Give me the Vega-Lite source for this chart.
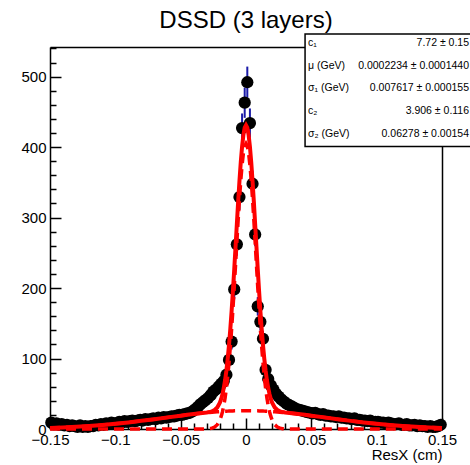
{
  "$schema": "https://vega.github.io/schema/vega-lite/v6.json",
  "width": 392,
  "height": 382,
  "autosize": {"type": "none"},
  "padding": {"left": 50, "top": 47, "right": 28, "bottom": 36},
  "background": "white",
  "config": {"view": {"stroke": null}, "font": "Liberation Sans"},
  "title": {"text": "DSSD (3 layers)", "fontSize": 24, "font": "Liberation Sans", "fontWeight": "normal", "color": "black", "anchor": "middle", "offset": 0},
  "datasets": {
    "hist": [
      {"x": -0.149, "n": 9, "e": 3}, {"x": -0.147, "n": 7, "e": 2.6}, {"x": -0.145, "n": 8, "e": 2.8}, {"x": -0.143, "n": 6, "e": 2.4}, {"x": -0.141, "n": 7, "e": 2.6},
      {"x": -0.139, "n": 5, "e": 2.2}, {"x": -0.137, "n": 6, "e": 2.4}, {"x": -0.135, "n": 4, "e": 2}, {"x": -0.133, "n": 5, "e": 2.2}, {"x": -0.131, "n": 4, "e": 2},
      {"x": -0.129, "n": 3, "e": 1.7}, {"x": -0.127, "n": 5, "e": 2.2}, {"x": -0.125, "n": 3, "e": 1.7}, {"x": -0.123, "n": 4, "e": 2}, {"x": -0.121, "n": 3, "e": 1.7},
      {"x": -0.119, "n": 4, "e": 2}, {"x": -0.117, "n": 4, "e": 2}, {"x": -0.115, "n": 6, "e": 2.4}, {"x": -0.113, "n": 5, "e": 2.2}, {"x": -0.111, "n": 7, "e": 2.6},
      {"x": -0.109, "n": 6, "e": 2.4}, {"x": -0.107, "n": 8, "e": 2.8}, {"x": -0.105, "n": 7, "e": 2.6}, {"x": -0.103, "n": 9, "e": 3}, {"x": -0.101, "n": 8, "e": 2.8},
      {"x": -0.099, "n": 8, "e": 2.8}, {"x": -0.097, "n": 10, "e": 3.2}, {"x": -0.095, "n": 9, "e": 3}, {"x": -0.093, "n": 11, "e": 3.3}, {"x": -0.091, "n": 10, "e": 3.2},
      {"x": -0.089, "n": 11, "e": 3.3}, {"x": -0.087, "n": 12, "e": 3.5}, {"x": -0.085, "n": 11, "e": 3.3}, {"x": -0.083, "n": 12, "e": 3.5}, {"x": -0.081, "n": 13, "e": 3.6},
      {"x": -0.079, "n": 12, "e": 3.5}, {"x": -0.077, "n": 14, "e": 3.7}, {"x": -0.075, "n": 13, "e": 3.6}, {"x": -0.073, "n": 14, "e": 3.7}, {"x": -0.071, "n": 15, "e": 3.9},
      {"x": -0.069, "n": 14, "e": 3.7}, {"x": -0.067, "n": 16, "e": 4}, {"x": -0.065, "n": 15, "e": 3.9}, {"x": -0.063, "n": 17, "e": 4.1}, {"x": -0.061, "n": 16, "e": 4},
      {"x": -0.059, "n": 17, "e": 4.1}, {"x": -0.057, "n": 18, "e": 4.2}, {"x": -0.055, "n": 18, "e": 4.2}, {"x": -0.053, "n": 19, "e": 4.4}, {"x": -0.051, "n": 20, "e": 4.5},
      {"x": -0.049, "n": 20, "e": 4.5}, {"x": -0.047, "n": 21, "e": 4.6}, {"x": -0.045, "n": 22, "e": 4.7}, {"x": -0.043, "n": 23, "e": 4.8}, {"x": -0.041, "n": 25, "e": 5},
      {"x": -0.039, "n": 28, "e": 5.3}, {"x": -0.037, "n": 31, "e": 5.6}, {"x": -0.035, "n": 35, "e": 5.9}, {"x": -0.033, "n": 38, "e": 6.2}, {"x": -0.031, "n": 41, "e": 6.4},
      {"x": -0.029, "n": 44, "e": 6.6}, {"x": -0.027, "n": 48, "e": 6.9}, {"x": -0.025, "n": 53, "e": 7.3}, {"x": -0.023, "n": 56, "e": 7.5}, {"x": -0.021, "n": 60, "e": 7.7},
      {"x": -0.019, "n": 64, "e": 8}, {"x": -0.017, "n": 68, "e": 8.2}, {"x": -0.015, "n": 77, "e": 8.8}, {"x": -0.013, "n": 98, "e": 9.9}, {"x": -0.011, "n": 124, "e": 11.1},
      {"x": -0.009, "n": 198, "e": 14.1}, {"x": -0.007, "n": 262, "e": 16.2}, {"x": -0.005, "n": 329, "e": 18.1}, {"x": -0.003, "n": 427, "e": 20.7}, {"x": -0.001, "n": 463, "e": 21.5},
      {"x": 0.001, "n": 492, "e": 22.2}, {"x": 0.003, "n": 434, "e": 20.8}, {"x": 0.005, "n": 348, "e": 18.7}, {"x": 0.007, "n": 276, "e": 16.6}, {"x": 0.009, "n": 174, "e": 13.2},
      {"x": 0.011, "n": 152, "e": 12.3}, {"x": 0.013, "n": 128, "e": 11.3}, {"x": 0.015, "n": 84, "e": 9.2}, {"x": 0.017, "n": 71, "e": 8.4}, {"x": 0.019, "n": 62, "e": 7.9},
      {"x": 0.021, "n": 56, "e": 7.5}, {"x": 0.023, "n": 50, "e": 7.1}, {"x": 0.025, "n": 46, "e": 6.8}, {"x": 0.027, "n": 42, "e": 6.5}, {"x": 0.029, "n": 39, "e": 6.2},
      {"x": 0.031, "n": 36, "e": 6}, {"x": 0.033, "n": 34, "e": 5.8}, {"x": 0.035, "n": 32, "e": 5.7}, {"x": 0.037, "n": 30, "e": 5.5}, {"x": 0.039, "n": 28, "e": 5.3},
      {"x": 0.041, "n": 27, "e": 5.2}, {"x": 0.043, "n": 26, "e": 5.1}, {"x": 0.045, "n": 25, "e": 5}, {"x": 0.047, "n": 24, "e": 4.9}, {"x": 0.049, "n": 23, "e": 4.8},
      {"x": 0.051, "n": 22, "e": 4.7}, {"x": 0.053, "n": 23, "e": 4.8}, {"x": 0.055, "n": 21, "e": 4.6}, {"x": 0.057, "n": 20, "e": 4.5}, {"x": 0.059, "n": 21, "e": 4.6},
      {"x": 0.061, "n": 19, "e": 4.4}, {"x": 0.063, "n": 19, "e": 4.4}, {"x": 0.065, "n": 18, "e": 4.2}, {"x": 0.067, "n": 18, "e": 4.2}, {"x": 0.069, "n": 17, "e": 4.1},
      {"x": 0.071, "n": 18, "e": 4.2}, {"x": 0.073, "n": 16, "e": 4}, {"x": 0.075, "n": 16, "e": 4}, {"x": 0.077, "n": 15, "e": 3.9}, {"x": 0.079, "n": 15, "e": 3.9},
      {"x": 0.081, "n": 14, "e": 3.7}, {"x": 0.083, "n": 15, "e": 3.9}, {"x": 0.085, "n": 13, "e": 3.6}, {"x": 0.087, "n": 13, "e": 3.6}, {"x": 0.089, "n": 12, "e": 3.5},
      {"x": 0.091, "n": 12, "e": 3.5}, {"x": 0.093, "n": 11, "e": 3.3}, {"x": 0.095, "n": 12, "e": 3.5}, {"x": 0.097, "n": 10, "e": 3.2}, {"x": 0.099, "n": 10, "e": 3.2},
      {"x": 0.101, "n": 10, "e": 3.2}, {"x": 0.103, "n": 9, "e": 3}, {"x": 0.105, "n": 9, "e": 3}, {"x": 0.107, "n": 8, "e": 2.8}, {"x": 0.109, "n": 9, "e": 3},
      {"x": 0.111, "n": 8, "e": 2.8}, {"x": 0.113, "n": 7, "e": 2.6}, {"x": 0.115, "n": 7, "e": 2.6}, {"x": 0.117, "n": 8, "e": 2.8}, {"x": 0.119, "n": 6, "e": 2.4},
      {"x": 0.121, "n": 6, "e": 2.4}, {"x": 0.123, "n": 7, "e": 2.6}, {"x": 0.125, "n": 5, "e": 2.2}, {"x": 0.127, "n": 5, "e": 2.2}, {"x": 0.129, "n": 6, "e": 2.4},
      {"x": 0.131, "n": 4, "e": 2}, {"x": 0.133, "n": 5, "e": 2.2}, {"x": 0.135, "n": 4, "e": 2}, {"x": 0.137, "n": 4, "e": 2}, {"x": 0.139, "n": 3, "e": 1.7},
      {"x": 0.141, "n": 4, "e": 2}, {"x": 0.143, "n": 3, "e": 1.7}, {"x": 0.145, "n": 3, "e": 1.7}, {"x": 0.147, "n": 4, "e": 2}, {"x": 0.149, "n": 6, "e": 2.4}
    ],
    "fit": [
      {"x": -0.15, "t": 1.5, "n": 0, "w": 1.5}, {"x": -0.14, "t": 2.17, "n": 0, "w": 2.17}, {"x": -0.13, "t": 3.05, "n": 0, "w": 3.05}, {"x": -0.12, "t": 4.19, "n": 0, "w": 4.19},
      {"x": -0.11, "t": 5.61, "n": 0, "w": 5.61}, {"x": -0.1, "t": 7.32, "n": 0, "w": 7.32}, {"x": -0.09, "t": 9.31, "n": 0, "w": 9.31}, {"x": -0.08, "t": 11.55, "n": 0, "w": 11.55},
      {"x": -0.07, "t": 13.97, "n": 0, "w": 13.97}, {"x": -0.06, "t": 16.47, "n": 0, "w": 16.47}, {"x": -0.05, "t": 18.94, "n": 0, "w": 18.94}, {"x": -0.045, "t": 20.11, "n": 0, "w": 20.11},
      {"x": -0.04, "t": 21.23, "n": 0, "w": 21.23}, {"x": -0.035, "t": 22.26, "n": 0, "w": 22.26}, {"x": -0.03, "t": 23.37, "n": 0.17, "w": 23.2}, {"x": -0.028, "t": 24.0, "n": 0.46, "w": 23.54},
      {"x": -0.026, "t": 25.03, "n": 1.16, "w": 23.87}, {"x": -0.024, "t": 26.94, "n": 2.77, "w": 24.17}, {"x": -0.022, "t": 30.59, "n": 6.14, "w": 24.45}, {"x": -0.02, "t": 37.4, "n": 12.68, "w": 24.72},
      {"x": -0.019, "t": 42.6, "n": 17.78, "w": 24.82}, {"x": -0.018, "t": 49.44, "n": 24.5, "w": 24.94}, {"x": -0.017, "t": 58.22, "n": 33.17, "w": 25.05}, {"x": -0.016, "t": 69.31, "n": 44.15, "w": 25.16},
      {"x": -0.015, "t": 83.01, "n": 57.75, "w": 25.26}, {"x": -0.014, "t": 99.6, "n": 74.24, "w": 25.36}, {"x": -0.013, "t": 119.2, "n": 93.76, "w": 25.44}, {"x": -0.012, "t": 141.93, "n": 116.4, "w": 25.53},
      {"x": -0.011, "t": 167.7, "n": 142.1, "w": 25.6}, {"x": -0.01, "t": 196.07, "n": 170.4, "w": 25.67}, {"x": -0.009, "t": 226.63, "n": 200.9, "w": 25.73}, {"x": -0.008, "t": 258.59, "n": 232.8, "w": 25.79},
      {"x": -0.007, "t": 290.84, "n": 265.0, "w": 25.84}, {"x": -0.006, "t": 322.48, "n": 296.6, "w": 25.88}, {"x": -0.005, "t": 352.12, "n": 326.2, "w": 25.92}, {"x": -0.004, "t": 378.55, "n": 352.6, "w": 25.95},
      {"x": -0.003, "t": 400.57, "n": 374.6, "w": 25.97}, {"x": -0.002, "t": 417.19, "n": 391.2, "w": 25.99}, {"x": -0.001, "t": 427.5, "n": 401.5, "w": 26.0}, {"x": 0, "t": 431, "n": 405, "w": 26},
      {"x": 0.001, "t": 427.5, "n": 401.5, "w": 26.0}, {"x": 0.002, "t": 417.19, "n": 391.2, "w": 25.99}, {"x": 0.003, "t": 400.57, "n": 374.6, "w": 25.97}, {"x": 0.004, "t": 378.55, "n": 352.6, "w": 25.95},
      {"x": 0.005, "t": 352.12, "n": 326.2, "w": 25.92}, {"x": 0.006, "t": 322.48, "n": 296.6, "w": 25.88}, {"x": 0.007, "t": 290.84, "n": 265.0, "w": 25.84}, {"x": 0.008, "t": 258.59, "n": 232.8, "w": 25.79},
      {"x": 0.009, "t": 226.63, "n": 200.9, "w": 25.73}, {"x": 0.01, "t": 196.07, "n": 170.4, "w": 25.67}, {"x": 0.011, "t": 167.7, "n": 142.1, "w": 25.6}, {"x": 0.012, "t": 141.93, "n": 116.4, "w": 25.53},
      {"x": 0.013, "t": 119.2, "n": 93.76, "w": 25.44}, {"x": 0.014, "t": 99.6, "n": 74.24, "w": 25.36}, {"x": 0.015, "t": 83.01, "n": 57.75, "w": 25.26}, {"x": 0.016, "t": 69.31, "n": 44.15, "w": 25.16},
      {"x": 0.017, "t": 58.22, "n": 33.17, "w": 25.05}, {"x": 0.018, "t": 49.44, "n": 24.5, "w": 24.94}, {"x": 0.019, "t": 42.6, "n": 17.78, "w": 24.82}, {"x": 0.02, "t": 37.4, "n": 12.68, "w": 24.72},
      {"x": 0.022, "t": 30.59, "n": 6.14, "w": 24.45}, {"x": 0.024, "t": 26.94, "n": 2.77, "w": 24.17}, {"x": 0.026, "t": 25.03, "n": 1.16, "w": 23.87}, {"x": 0.028, "t": 24.0, "n": 0.46, "w": 23.54},
      {"x": 0.03, "t": 23.37, "n": 0.17, "w": 23.2}, {"x": 0.035, "t": 22.26, "n": 0, "w": 22.26}, {"x": 0.04, "t": 21.23, "n": 0, "w": 21.23}, {"x": 0.045, "t": 20.11, "n": 0, "w": 20.11},
      {"x": 0.05, "t": 18.94, "n": 0, "w": 18.94}, {"x": 0.06, "t": 16.47, "n": 0, "w": 16.47}, {"x": 0.07, "t": 13.97, "n": 0, "w": 13.97}, {"x": 0.08, "t": 11.55, "n": 0, "w": 11.55},
      {"x": 0.09, "t": 9.31, "n": 0, "w": 9.31}, {"x": 0.1, "t": 7.32, "n": 0, "w": 7.32}, {"x": 0.11, "t": 5.61, "n": 0, "w": 5.61}, {"x": 0.12, "t": 4.19, "n": 0, "w": 4.19},
      {"x": 0.13, "t": 3.05, "n": 0, "w": 3.05}, {"x": 0.14, "t": 2.17, "n": 0, "w": 2.17}, {"x": 0.15, "t": 1.5, "n": 0, "w": 1.5}
    ]
  },
  "layer": [
    {
      "data": {"name": "hist"},
      "mark": {"type": "errorbar", "ticks": false, "color": "#1a1aa8", "thickness": 2},
      "encoding": {
        "x": {"field": "x", "type": "quantitative", "scale": {"domain": [-0.15, 0.15], "nice": false, "zero": false}, "axis": null},
        "y": {"field": "n", "type": "quantitative", "scale": {"domain": [0, 542], "nice": false}, "axis": null},
        "yError": {"field": "e"}
      }
    },
    {
      "data": {"name": "hist"},
      "mark": {"type": "point", "shape": "circle", "filled": true, "size": 150, "color": "black", "opacity": 1},
      "encoding": {
        "x": {"field": "x", "type": "quantitative", "scale": {"domain": [-0.15, 0.15], "nice": false, "zero": false},
          "axis": {"orient": "bottom", "values": [-0.15, -0.1, -0.05, 0, 0.05, 0.1, 0.15], "labelExpr": "datum.value == 0 ? '0' : format(datum.value, '.2~f')", "ticks": false, "grid": false,
            "labelPadding": 3, "labelFontSize": 15, "labelColor": "black", "labelFont": "Liberation Sans", "labelFlush": false, "labelOverlap": false,
            "domainColor": "black", "domainWidth": 1.5,
            "title": "ResX (cm)", "titleAnchor": "end", "titleFontSize": 15, "titleFontWeight": "normal", "titleColor": "black", "titleFont": "Liberation Sans", "titlePadding": 0}},
        "y": {"field": "n", "type": "quantitative", "scale": {"domain": [0, 542], "nice": false},
          "axis": {"orient": "left", "values": [0, 100, 200, 300, 400, 500], "ticks": false, "grid": false,
            "labelPadding": 4, "labelFontSize": 15, "labelColor": "black", "labelFont": "Liberation Sans", "labelFlush": false, "labelOverlap": false,
            "domainColor": "black", "domainWidth": 1.5, "title": null}}
      }
    },
    {
      "data": {"name": "fit"},
      "mark": {"type": "line", "color": "#ff0000", "strokeWidth": 3.5, "strokeDash": [10, 6]},
      "encoding": {
        "x": {"field": "x", "type": "quantitative", "scale": {"domain": [-0.15, 0.15], "nice": false, "zero": false},
          "axis": {"orient": "bottom", "values": [-0.15, -0.1, -0.05, 0, 0.05, 0.1, 0.15], "labels": false, "domain": false, "grid": false, "tickSize": -11, "tickColor": "black", "tickWidth": 1.5, "title": null}},
        "y": {"field": "n", "type": "quantitative", "scale": {"domain": [0, 542], "nice": false},
          "axis": {"orient": "left", "values": [0, 100, 200, 300, 400, 500], "labels": false, "domain": false, "grid": false, "tickSize": -11, "tickColor": "black", "tickWidth": 1.5, "title": null}}
      }
    },
    {
      "data": {"name": "fit"},
      "mark": {"type": "line", "color": "#ff0000", "strokeWidth": 3.5, "strokeDash": [10, 6]},
      "encoding": {
        "x": {"field": "x", "type": "quantitative", "scale": {"domain": [-0.15, 0.15], "nice": false, "zero": false},
          "axis": {"orient": "bottom", "values": [-0.14, -0.13, -0.12, -0.11, -0.09, -0.08, -0.07, -0.06, -0.04, -0.03, -0.02, -0.01, 0.01, 0.02, 0.03, 0.04, 0.06, 0.07, 0.08, 0.09, 0.11, 0.12, 0.13, 0.14], "labels": false, "domain": false, "grid": false, "tickSize": -6, "tickColor": "black", "tickWidth": 1.5, "title": null}},
        "y": {"field": "w", "type": "quantitative", "scale": {"domain": [0, 542], "nice": false},
          "axis": {"orient": "left", "values": [20, 40, 60, 80, 120, 140, 160, 180, 220, 240, 260, 280, 320, 340, 360, 380, 420, 440, 460, 480, 520, 540], "labels": false, "domain": false, "grid": false, "tickSize": -6, "tickColor": "black", "tickWidth": 1.5, "title": null}}
      }
    },
    {
      "data": {"name": "fit"},
      "mark": {"type": "line", "color": "#ff0000", "strokeWidth": 4},
      "encoding": {
        "x": {"field": "x", "type": "quantitative", "scale": {"domain": [-0.15, 0.15], "nice": false, "zero": false},
          "axis": {"orient": "top", "labels": false, "ticks": false, "grid": false, "domain": true, "domainColor": "black", "domainWidth": 1.5, "title": null}},
        "y": {"field": "t", "type": "quantitative", "scale": {"domain": [0, 542], "nice": false},
          "axis": {"orient": "right", "labels": false, "ticks": false, "grid": false, "domain": true, "domainColor": "black", "domainWidth": 1.5, "title": null}}
      }
    },
    {
      "data": {"values": [{}]},
      "mark": {"type": "rect", "fill": "white", "stroke": "black", "strokeWidth": 1.5},
      "encoding": {
        "x": {"datum": 0.0452, "type": "quantitative", "scale": {"domain": [-0.15, 0.15], "nice": false, "zero": false}, "axis": null},
        "x2": {"datum": 0.18},
        "y": {"datum": 400.8, "type": "quantitative", "scale": {"domain": [0, 542], "nice": false}, "axis": null},
        "y2": {"datum": 560.4}
      }
    },
    {
      "data": {"values": [
        {"k": "c₁", "v": "7.72 ± 0.15", "r": 547.7},
        {"k": "μ (GeV)", "v": "0.0002234 ± 0.0001440", "r": 515.5},
        {"k": "σ₁ (GeV)", "v": "0.007617 ± 0.000155", "r": 483.3},
        {"k": "c₂", "v": "3.906 ± 0.116", "r": 451.1},
        {"k": "σ₂ (GeV)", "v": "0.06278 ± 0.00154", "r": 419.0}
      ]},
      "layer": [
        {
          "mark": {"type": "text", "align": "left", "baseline": "middle", "fontSize": 10.5, "font": "Liberation Sans", "color": "black"},
          "encoding": {
            "x": {"datum": 0.0475, "type": "quantitative", "scale": {"domain": [-0.15, 0.15], "nice": false, "zero": false}, "axis": null},
            "y": {"field": "r", "type": "quantitative", "scale": {"domain": [0, 542], "nice": false}, "axis": null},
            "text": {"field": "k"}
          }
        },
        {
          "mark": {"type": "text", "align": "right", "baseline": "middle", "fontSize": 10.5, "font": "Liberation Sans", "color": "black"},
          "encoding": {
            "x": {"datum": 0.1707, "type": "quantitative", "scale": {"domain": [-0.15, 0.15], "nice": false, "zero": false}, "axis": null},
            "y": {"field": "r", "type": "quantitative", "scale": {"domain": [0, 542], "nice": false}, "axis": null},
            "text": {"field": "v"}
          }
        }
      ]
    }
  ],
  "resolve": {"axis": {"x": "independent", "y": "independent"}}
}
